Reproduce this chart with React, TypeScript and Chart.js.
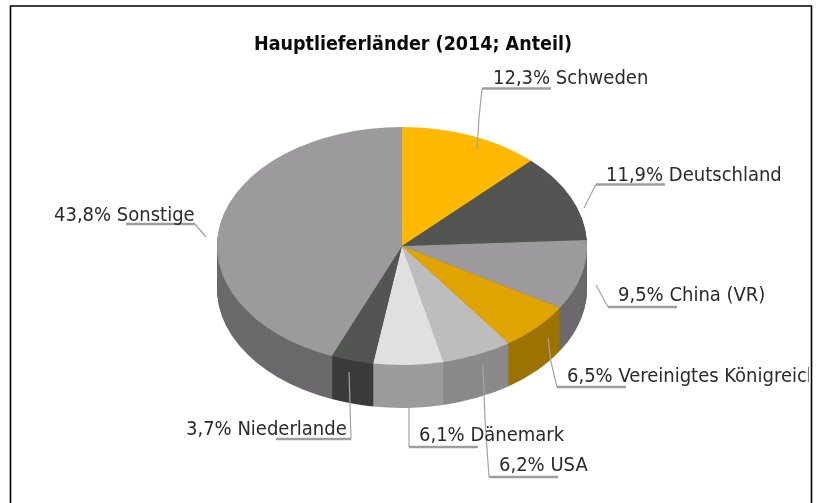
import React, { useEffect, useRef } from "react";
import { Chart, registerables } from "chart.js";

Chart.register(...registerables);

const chartTitle = "Hauptlieferländer (2014; Anteil)";
const countries = ["Schweden", "Deutschland", "China (VR)", "Vereinigtes Königreich", "USA", "Dänemark", "Niederlande", "Sonstige"];
const shares = [12.3, 11.9, 9.5, 6.5, 6.2, 6.1, 3.7, 43.8];
const topColors = ["#FFB900", "#535552", "#9C9A9D", "#E0A400", "#BDBDBD", "#E0E0E0", "#535552", "#9C9A9D"];
const sideColors = ["#9C7300", "#3A3C39", "#6B696C", "#9C7300", "#8A8A8A", "#9C9C9C", "#3A3C39", "#6B696C"];

const FONT = '"DejaVu Sans Condensed", "DejaVu Sans", sans-serif';
const CENTER_X = 402;
const CENTER_Y = 246;
const RADIUS = 185;
const SQUASH = 119 / 185;
const DEPTH = 43;

// Annotation layout, one per category: text start + baseline, underline, leader end points.
const labelX = [493, 606, 618, 567, 499, 419, 186, 54];
const labelBaseline = [84, 181, 301, 382, 471, 441, 435, 221];
const underlineY = [88.5, 184.5, 307, 387, 477, 447, 439, 224];
const underlineFrom = [482, 596, 608, 557, 489, 409, 276, 126];
const underlineTo = [551, 665, 677, 626, 558, 478, 351, 195];
const leaderStart = [482, 596, 608, 557, 489, 409, 351, 195];
const leaderMidX = [479, 590, 602, 551, 485, 409, 350, 200];
const leaderMidY = [118, 196, 296, 362, 420, 428, 405, 230];
const leaderEndX = [477, 584, 596, 548, 483, 409, 349, 206];
const leaderEndY = [150, 208, 285, 338, 365, 408, 372, 237];

const piePlugin = {
  id: "extrudedPie",
  beforeDatasetDraw(chart: any) {
    const ctx = chart.ctx;
    const arcs = chart.getDatasetMeta(0).data;
    const paint = (offset: number, colors: string[]) => {
      ctx.save();
      ctx.translate(0, CENTER_Y + offset);
      ctx.scale(1, SQUASH);
      ctx.translate(0, -CENTER_Y);
      arcs.forEach((arc: any, i: number) => {
        const saved = arc.options;
        arc.options = { ...saved, backgroundColor: colors[i] };
        arc.draw(ctx);
        arc.options = saved;
      });
      ctx.restore();
    };
    for (let d = DEPTH; d > 0; d--) paint(d, sideColors);
    paint(0, topColors);
    return false;
  },
  afterDraw(chart: any) {
    const ctx = chart.ctx;
    ctx.save();
    // Frame
    ctx.strokeStyle = "#000000";
    ctx.lineWidth = 1.6;
    ctx.beginPath();
    ctx.moveTo(10.5, 510);
    ctx.lineTo(10.5, 6);
    ctx.lineTo(811.5, 6);
    ctx.lineTo(811.5, 510);
    ctx.stroke();
    // Leaders
    ctx.lineJoin = "round";
    countries.forEach((_, i) => {
      ctx.strokeStyle = "#A3A3A3";
      ctx.lineWidth = 1.2;
      ctx.beginPath();
      ctx.moveTo(leaderStart[i], underlineY[i]);
      ctx.lineTo(leaderMidX[i], leaderMidY[i]);
      ctx.lineTo(leaderEndX[i], leaderEndY[i]);
      ctx.stroke();
      ctx.strokeStyle = "#9E9E9E";
      ctx.lineWidth = 2.4;
      ctx.beginPath();
      ctx.moveTo(underlineFrom[i], underlineY[i]);
      ctx.lineTo(underlineTo[i], underlineY[i]);
      ctx.stroke();
    });
    // Texts, cut off at the frame
    ctx.beginPath();
    ctx.rect(11, 7, 798, 496);
    ctx.clip();
    ctx.fillStyle = "#2A2A2A";
    ctx.textAlign = "left";
    ctx.textBaseline = "alphabetic";
    ctx.font = `20px ${FONT}`;
    countries.forEach((name, i) => {
      const text = `${shares[i].toFixed(1).replace(".", ",")}% ${name}`;
      ctx.fillText(text, labelX[i], labelBaseline[i]);
    });
    ctx.fillStyle = "#0A0A0A";
    ctx.font = `bold 19.5px ${FONT}`;
    ctx.fillText(chartTitle, 254, 50);
    ctx.restore();
  },
};

export default function App() {
  const ref = useRef<HTMLCanvasElement>(null);
  useEffect(() => {
    const chart = new Chart(ref.current as HTMLCanvasElement, {
      type: "pie",
      data: {
        labels: countries,
        datasets: [{ data: shares, backgroundColor: topColors, borderWidth: 0 }],
      },
      options: {
        responsive: false,
        animation: false,
        layout: {
          padding: {
            left: CENTER_X - RADIUS,
            right: 819 - CENTER_X - RADIUS,
            top: CENTER_Y - RADIUS,
            bottom: 503 - CENTER_Y - RADIUS,
          },
        },
        plugins: { legend: { display: false }, tooltip: { enabled: false }, title: { display: false } },
      },
      plugins: [piePlugin],
    } as any);
    return () => chart.destroy();
  }, []);
  return (
    <div style={{ position: "fixed", left: 0, top: 0, width: 819, height: 503, background: "#fff", overflow: "hidden" }}>
      <canvas ref={ref} width={819} height={503} style={{ display: "block", filter: "blur(0.45px)" }} />
    </div>
  );
}
